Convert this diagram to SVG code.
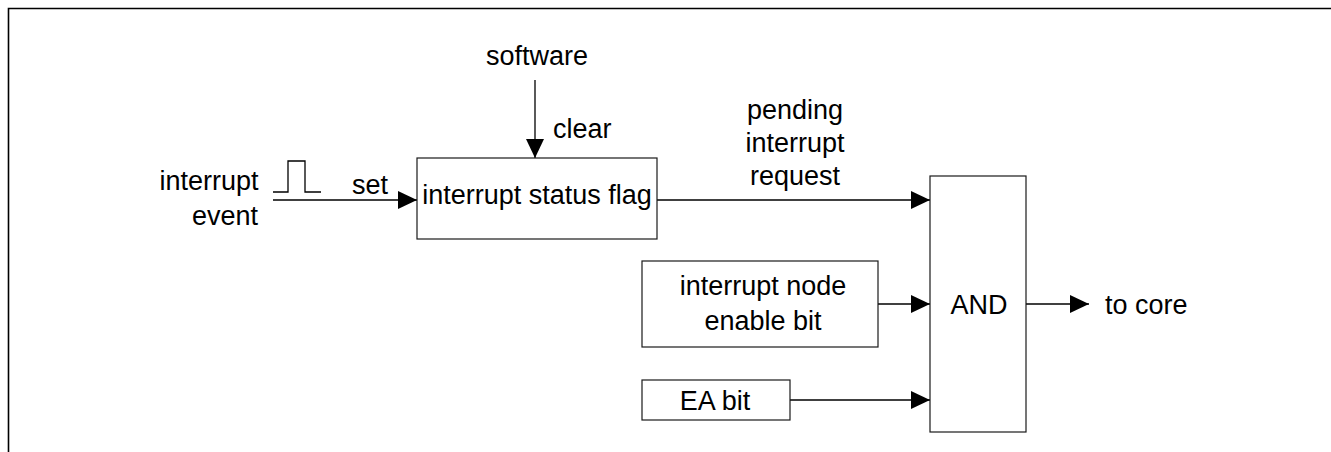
<svg xmlns="http://www.w3.org/2000/svg" width="1331" height="452" viewBox="0 0 1331 452">
<style>
  .box { fill: #ffffff; stroke: #1a1a1a; stroke-width: 1.2; }
  .wire { fill: none; stroke: #000000; stroke-width: 1.3; }
  .arrow { fill: none; stroke: #000000; stroke-width: 1.3; marker-end: url(#tri); }
  .frame { fill: none; stroke: #000000; stroke-width: 1.6; }
  text { font-family: "Liberation Sans", Arial, sans-serif; font-size: 27px; fill: #000000; }
  .c { text-anchor: middle; }
</style>
<defs>
  <marker id="tri" viewBox="0 0 19 18" refX="19" refY="9" markerWidth="19" markerHeight="18" markerUnits="userSpaceOnUse" orient="auto">
    <path d="M0,0 L19,9 L0,18 z" fill="#000000"/>
  </marker>
</defs>
<rect width="1331" height="452" fill="#ffffff"/>
<path class="frame" d="M8.5,452 L8.5,8.5 L1331,8.5"/>

<g id="connectors">
  <line class="arrow" x1="535" y1="80" x2="535" y2="158"/>
  <line class="arrow" x1="273" y1="200" x2="417" y2="200"/>
  <polyline class="wire" points="273,192 288,192 288,161 305,161 305,192 321,192"/>
  <line class="arrow" x1="657" y1="200" x2="930" y2="200"/>
  <line class="arrow" x1="878" y1="304" x2="930" y2="304"/>
  <line class="arrow" x1="790" y1="400" x2="930" y2="400"/>
  <line class="arrow" x1="1026" y1="304" x2="1089" y2="304"/>
</g>

<g id="labels">
  <text class="c" x="537" y="65">software</text>
  <text x="553" y="138">clear</text>
  <text class="c" x="209" y="190">interrupt</text>
  <text class="c" x="225" y="225">event</text>
  <text class="c" x="370" y="194">set</text>
  <text class="c" x="795" y="119">pending</text>
  <text class="c" x="795" y="152">interrupt</text>
  <text class="c" x="795" y="185">request</text>
  <text x="1105" y="314">to core</text>
</g>

<g id="status-flag">
  <rect class="box" x="417" y="158" width="240" height="81"/>
  <text class="c" x="537" y="204">interrupt status flag</text>
</g>

<g id="node-enable">
  <rect class="box" x="642" y="261" width="236" height="86"/>
  <text class="c" x="763" y="295">interrupt node</text>
  <text class="c" x="763" y="330">enable bit</text>
</g>

<g id="ea-bit">
  <rect class="box" x="642" y="380" width="148" height="40"/>
  <text class="c" x="715" y="410">EA bit</text>
</g>

<g id="and-gate">
  <rect class="box" x="930" y="176" width="96" height="256"/>
  <text class="c" x="979" y="314">AND</text>
</g>
</svg>
